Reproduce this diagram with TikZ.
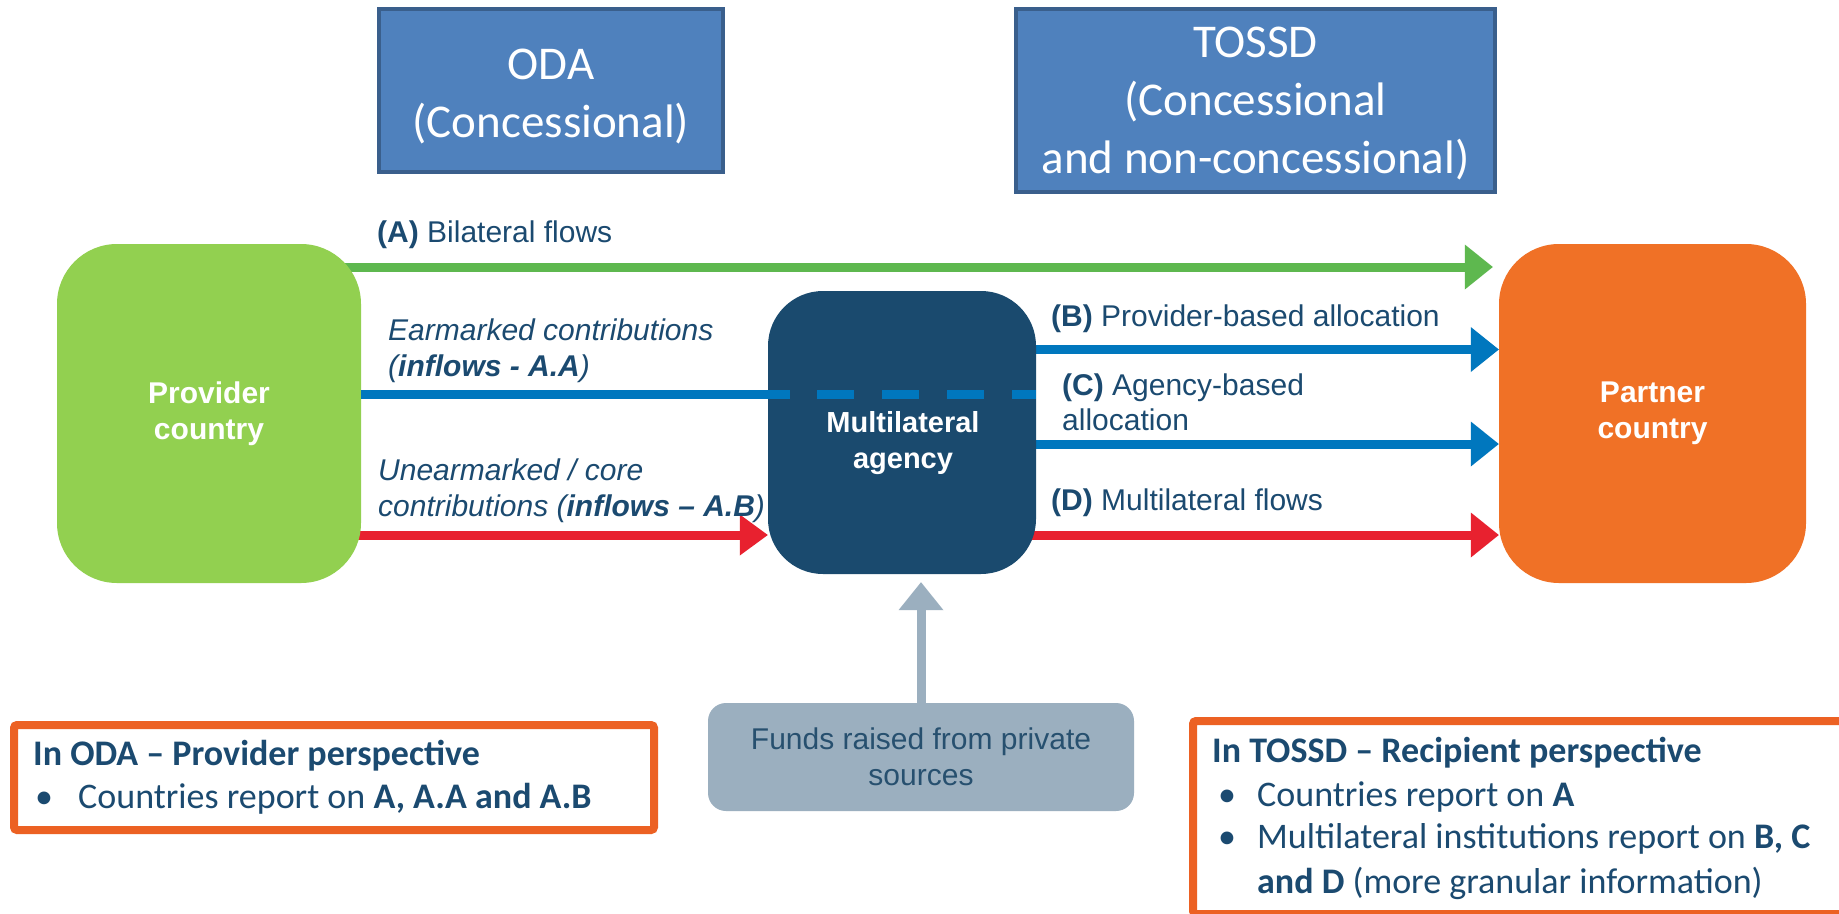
\documentclass[tikz,border=0pt]{standalone}
\usepackage{fontspec}
\setmainfont{Liberation Sans}
\newfontfamily\calib{Carlito}
\usetikzlibrary{arrows.meta,calc,backgrounds}
\newcommand\setfs[2]{\fontsize{#1}{#2}\selectfont}
\definecolor{navy}{HTML}{1A4A6E}
\definecolor{navytext}{HTML}{1B4A70}
\definecolor{provgreen}{HTML}{92D050}
\definecolor{partorange}{HTML}{F07126}
\definecolor{arrgreen}{HTML}{5EB84F}
\definecolor{arrblue}{HTML}{0077BE}
\definecolor{arrred}{HTML}{E8212F}
\definecolor{odafill}{HTML}{4F81BD}
\definecolor{odaborder}{HTML}{3A5F8C}
\definecolor{fundsfill}{HTML}{9BAFBF}
\definecolor{fundstext}{HTML}{27506F}
\definecolor{perspborder}{HTML}{EC6123}
\begin{document}
\begin{tikzpicture}[x=1pt,y=-1pt,
  catbox/.style={draw=odaborder, line width=4pt, fill=odafill, inner sep=0pt},
  cattext/.style={text=white, font=\calib\setfs{47}{58}, align=center, inner sep=0pt},
  actor/.style={rounded corners=60pt, text=white, font=\bfseries\setfs{30}{36},
    align=center, inner sep=0pt},
  agtext/.style={text=white, font=\bfseries\setfs{29}{36}, align=center, inner sep=0pt},
  fundsbox/.style={rounded corners=18pt, fill=fundsfill, text=fundstext,
    font=\setfs{30}{36}, align=center, inner sep=0pt},
  perspbox/.style={draw=perspborder, line width=8pt, rounded corners=3pt, inner sep=0pt},
  persptext/.style={anchor=base west, inner sep=0pt, text=navytext, font=\calib\setfs{36}{43}},
  lbl/.style={anchor=base west, inner sep=0pt, text=navytext, font=\setfs{30}{36}},
  flow/.style={line width=9pt, -{Triangle[length=28pt,width=45pt,line width=0pt]}},
  smallflow/.style={line width=9pt, -{Triangle[length=28pt,width=41pt,line width=0pt]}},
  plainflow/.style={line width=9pt}
]
\useasboundingbox (0,0) rectangle (1839,913);
\clip (0,0) rectangle (1839,913);

% category boxes
\node[catbox, minimum width=344pt, minimum height=163pt] (oda) at (551,90.5) {};
\node[cattext] (odatxt) at ($(oda.center)+(0,6)$) {ODA\\(Concessional)};
\node[catbox, minimum width=479pt, minimum height=183pt] (tossd) at (1255.5,100.5) {};
\node[cattext] (tossdtxt) at ($(tossd.center)+(0,3)$) {TOSSD\\(Concessional\\and non-concessional)};

% actors
\node[actor, fill=provgreen, minimum width=304pt, minimum height=339pt] (prov) at (209,413.5) {Provider\\country};
\node[actor, fill=partorange, minimum width=307pt, minimum height=339pt] (partner) at (1652.5,413.5) {Partner\\country};
\node[actor, fill=navy, rounded corners=55pt, minimum width=268pt, minimum height=283pt] (agency) at (902,432.5) {};
\node[agtext] (agencytxt) at (903,443) {Multilateral\\agency};

\node[fundsbox, minimum width=426pt, minimum height=108pt] (funds) at (921,757) {Funds raised from private\\sources};

% connectors behind the boxes
\begin{scope}[on background layer]
  \fill[white] (0,0) rectangle (1839,913);
  \draw[flow, arrgreen] (prov.center |- 0,267) -- ($(partner.west |- 0,267)+(-6,0)$);
  \draw[smallflow, arrred] (prov.center |- 0,535) -- (agency.west |- 0,535);
  \draw[flow, arrblue] (agency.center |- 0,349.5) -- (partner.west |- 0,349.5);
  \draw[flow, arrblue] (agency.center |- 0,444) -- (partner.west |- 0,444);
  \draw[flow, arrred] (agency.center |- 0,535) -- (partner.west |- 0,535);
\end{scope}

% earmarked line, dashed through the agency
\draw[plainflow, arrblue] (prov.east |- 0,394) -- ($(agency.west |- 0,394)+(22,0)$);
\draw[plainflow, arrblue, dash pattern=on 37pt off 28pt] ($(agency.west |- 0,394)+(-16,0)$) -- (agency.east |- 0,394);

% private funds arrow
\draw[flow, fundsfill, shorten >=8pt] (funds.north) -- (funds.north |- agency.south);

% arrow labels
\node[lbl] (lA) at (377,242) {\textbf{(A)} Bilateral flows};
\node[lbl] (lB) at (1051,326) {\textbf{(B)} Provider-based allocation};
\node[lbl] (lC1) at (1062,395) {\textbf{(C)} Agency-based};
\node[lbl] (lC2) at (1062,430) {allocation};
\node[lbl] (lD) at (1051,510) {\textbf{(D)} Multilateral flows};
\node[lbl, font=\itshape\setfs{30}{36}] (lE1) at (388,340) {Earmarked contributions};
\node[lbl, font=\itshape\setfs{30}{36}] (lE2) at (388,376) {(\textbf{inflows - A.A})};
\node[lbl, font=\itshape\setfs{30}{36}] (lU1) at (378,480) {Unearmarked / core};
\node[lbl, font=\itshape\setfs{30}{36}] (lU2) at (378,516) {contributions (\textbf{inflows – A.B})};

% perspective boxes
\node[perspbox, minimum width=640pt, minimum height=105pt] (odap) at (334,777.5) {};
\node[persptext] (odah) at (33,765) {\textbf{In ODA – Provider perspective}};
\node[persptext] (odab1) at (35,808) {•};
\node[persptext] (odat1) at (78,808) {Countries report on \textbf{A, A.A and A.B}};

\node[perspbox, minimum width=720pt, minimum height=193pt] (tossdp) at (1553,817.5) {};
\node[persptext] (tossdh) at (1212,762) {\textbf{In TOSSD – Recipient perspective}};
\node[persptext] (tossdb1) at (1218,806) {•};
\node[persptext] (tossdt1) at (1257,806) {Countries report on \textbf{A}};
\node[persptext] (tossdb2) at (1218,848) {•};
\node[persptext] (tossdt2) at (1257,848) {Multilateral institutions report on \textbf{B, C}};
\node[persptext] (tossdt3) at (1257,893) {\textbf{and D} (more granular information)};
\end{tikzpicture}
\end{document}
